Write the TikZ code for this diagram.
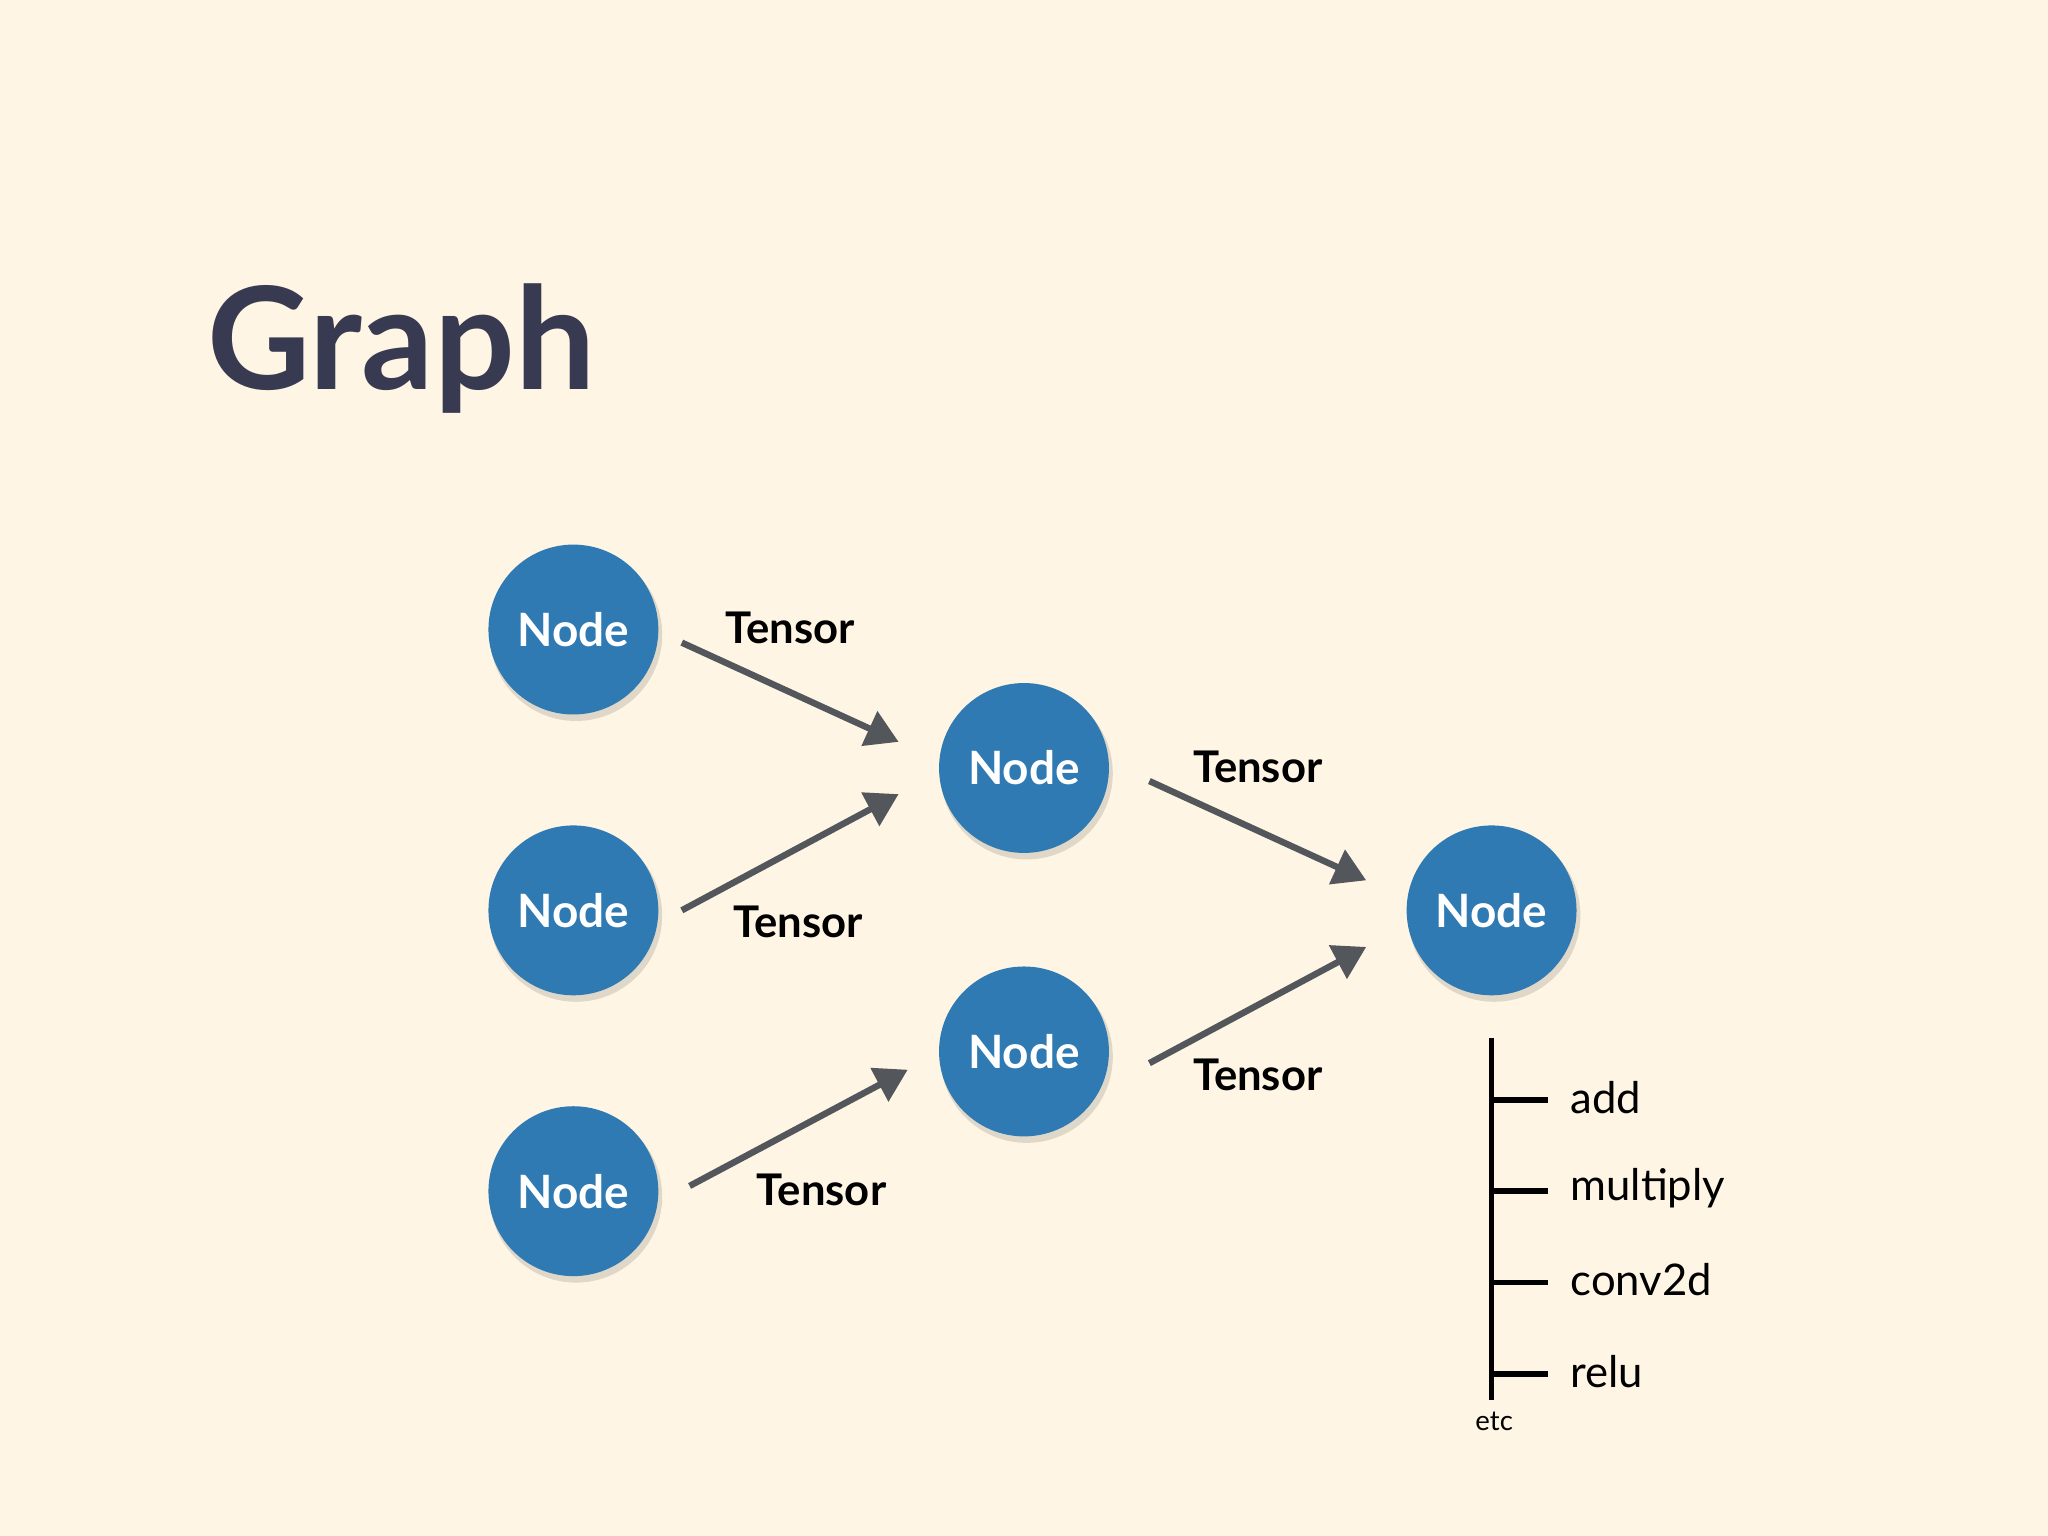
\documentclass[tikz,border=0pt]{standalone}
\usepackage{fontspec}
\setmainfont{Lato}
\usetikzlibrary{arrows.meta}
\definecolor{bg}{HTML}{FEF5E4}
\definecolor{nodeblue}{HTML}{2F7AB3}
\definecolor{arrowgray}{HTML}{53565B}
\definecolor{titlecol}{HTML}{383A52}
\tikzset{
 gnode/.style={circle,fill=nodeblue,minimum size=1.3cm,inner sep=0pt,text=white,font=\bfseries\fontsize{10}{12}\selectfont},
 garrow/.style={draw=arrowgray,line width=1.4pt,-{Triangle[length=7pt,width=8pt]}},
 tlabel/.style={font=\bfseries\fontsize{9.5}{11}\selectfont},
 item/.style={anchor=west,font=\fontsize{9.5}{11}\selectfont},
}
\begin{document}
\begin{tikzpicture}[x=0.01cm,y=-0.01cm]
\fill[bg] (0,0) rectangle (1568,1176);
\useasboundingbox (0,0) rectangle (1568,1176);
\node[anchor=base west,text=titlecol,font=\bfseries\fontsize{31}{36}\selectfont,inner sep=0pt] (title) at (158,298) {Graph};
\foreach \n/\x/\y in {a/439/482,b/439/697,c/439/912,d/784/588,e/784/805,f/1142/697}{
 \fill[black,opacity=0.12] (\x+2,\y+4) circle (66);
 \node[gnode] (\n) at (\x,\y) {Node};
}
\coordinate (a1) at (522,492); \coordinate (a2) at (688,568);
\coordinate (b1) at (522,697); \coordinate (b2) at (688,608);
\coordinate (c1) at (528,908); \coordinate (c2) at (695,819);
\coordinate (d1) at (880,598); \coordinate (d2) at (1046,674);
\coordinate (e1) at (880,814); \coordinate (e2) at (1046,725);
\draw[garrow] (a1) -- (a2);
\draw[garrow] (b1) -- (b2);
\draw[garrow] (c1) -- (c2);
\draw[garrow] (d1) -- (d2);
\draw[garrow] (e1) -- (e2);
\node[tlabel] (t1) at (605,481) {Tensor};
\node[tlabel] (t2) at (611,706) {Tensor};
\node[tlabel] (t3) at (629,911) {Tensor};
\node[tlabel] (t4) at (963,587) {Tensor};
\node[tlabel] (t5) at (963,823) {Tensor};
\coordinate (top) at (1142,795); \coordinate (bot) at (1142,1072);
\draw[line width=1.2pt] (top) -- (bot);
\foreach \n/\y/\t in {p/842/add,q/912/multiply,r/982/conv2d,s/1052/relu}{
 \coordinate (\n0) at (1142,\y); \coordinate (\n1) at (1185,\y);
 \draw[line width=1.2pt] (\n0) -- (\n1);
 \node[item] (\n) at (1190,\y-2) {\t};
}
\node[font=\fontsize{6}{7}\selectfont] (etc) at (1144,1088) {etc};
\end{tikzpicture}
\end{document}
